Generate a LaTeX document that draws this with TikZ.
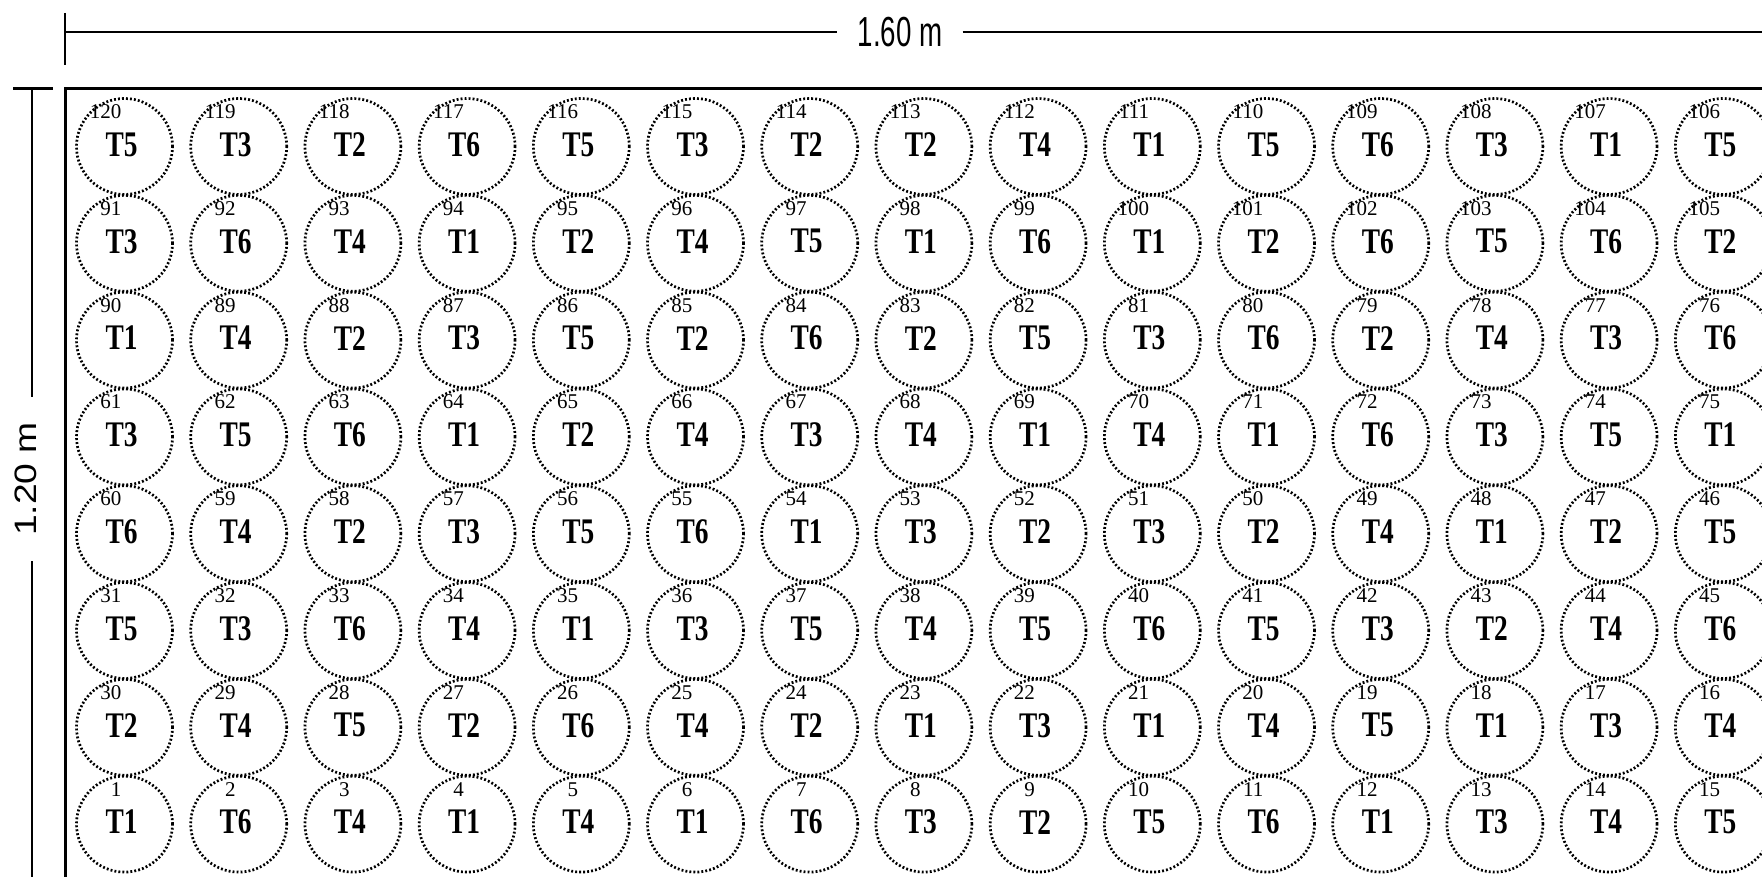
\documentclass[tikz,border=0pt]{standalone}
\usepackage{fontspec}
\setmainfont{Liberation Serif}
\newfontfamily\dimfont{Liberation Sans}
\begin{document}
\begin{tikzpicture}[x=1pt,y=-1pt,
  frameline/.style={line width=3pt},
  dimline/.style={line width=2.5pt},
  plot/.style={circle, draw, minimum size=96pt, inner sep=0pt, line width=2.7pt, dash pattern=on 1.9pt off 2.1pt},
  plotnum/.style={font=\fontsize{21}{21}\selectfont, anchor=base east, inner sep=0pt},
  trt/.style={font=\fontsize{36}{36}\selectfont\bfseries, inner sep=0pt},
  dimlabel/.style={inner ysep=0pt},
]
\useasboundingbox (0,0) rectangle (1762,877);
\clip (0,0) rectangle (1762,877);
% top dimension
\coordinate (tt) at (65,13);
\coordinate (tb) at (65,65);
\coordinate (tl) at (65,32);
\coordinate (tr) at (1762,32);
\draw[dimline] (tt) -- (tb);
\node[dimlabel, inner xsep=20pt] (w) at (900,32) {\dimfont\fontsize{42}{42}\selectfont\scalebox{0.66}[1]{1.60 m}};
\draw[dimline] (tl) -- (w.west);
\draw[dimline] (w.east) -- (tr);
% left dimension
\coordinate (ll) at (13,89);
\coordinate (lr) at (53,89);
\coordinate (lt) at (32,89);
\coordinate (lb) at (32,877);
\draw[frameline] (ll) -- (lr);
\node[dimlabel, rotate=90, inner xsep=25pt] (h) at (26,479) {\dimfont\fontsize{31}{31}\selectfont\scalebox{1.2}[1]{1.20 m}};
\draw[dimline] (lt) -- (lt |- h.east);
\draw[dimline] (lb |- h.west) -- (lb);
% frame
\coordinate (fr) at (1762,89);
\coordinate (fc) at (65,89);
\coordinate (fb) at (65,877);
\draw[frameline] (fr) -- (fc) -- (fb);
% plots
\foreach \t [count=\i from 0] in {
5,3,2,6,5,3,2,2,4,1,5,6,3,1,5,
3,6,4,1,2,4,5,1,6,1,2,6,5,6,2,
1,4,2,3,5,2,6,2,5,3,6,2,4,3,6,
3,5,6,1,2,4,3,4,1,4,1,6,3,5,1,
6,4,2,3,5,6,1,3,2,3,2,4,1,2,5,
5,3,6,4,1,3,5,4,5,6,5,3,2,4,6,
2,4,5,2,6,4,2,1,3,1,4,5,1,3,4,
1,6,4,1,4,1,6,3,2,5,6,1,3,4,5} {
  \pgfmathtruncatemacro\row{int(\i/15)}
  \pgfmathtruncatemacro\col{mod(\i,15)}
  \pgfmathtruncatemacro\k{7-\row}
  \pgfmathtruncatemacro\n{ifthenelse(isodd(\k),15*\k+15-\col,15*\k+\col+1)}
  \pgfmathsetmacro\cx{124.5+114.2*\col}
  \pgfmathsetmacro\cy{146.5+96.8*\row}
  \node[plot] (p\n) at (\cx,\cy) {};
  \node[trt] (t\n) at ([shift={(-3,-2)}]p\n.center) {\scalebox{0.76}[1]{T\t}};
  \node[plotnum] (n\n) at ([shift={(-3,-28)}]p\n.center) {\n};
}
\end{tikzpicture}
\end{document}
